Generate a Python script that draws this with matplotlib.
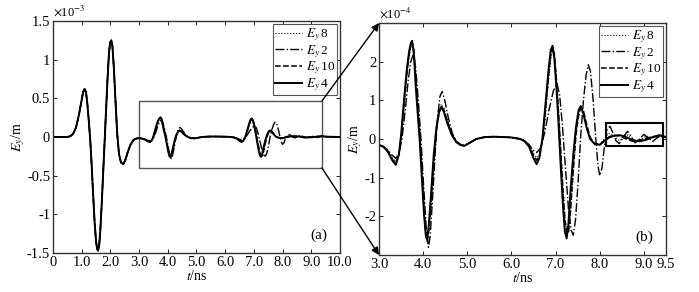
import numpy as np
import matplotlib
matplotlib.use('Agg')
import matplotlib.pyplot as plt
from matplotlib.patches import Rectangle, ConnectionPatch

plt.rcParams['font.family'] = ['Liberation Serif', 'DejaVu Serif']
plt.rcParams['mathtext.fontset'] = 'stix'
plt.rcParams['font.size'] = 10

# early part of the pulse, identical for all four curves (units of 1e-4 V/m)
t_early = [0.0, 0.5, 0.6, 0.7, 0.8, 0.9, 1.0, 1.05, 1.1, 1.15, 1.2, 1.25, 1.3, 1.35,
           1.4, 1.45, 1.5, 1.54, 1.57, 1.61, 1.65, 1.7, 1.75, 1.8, 1.85, 1.9, 1.95,
           1.99, 2.03, 2.07, 2.12, 2.18, 2.24, 2.3, 2.37, 2.45, 2.52, 2.6, 2.7, 2.8, 2.9]
v_early = [0, 0, 0.1, 0.4, 1.2, 2.8, 4.8, 5.8, 6.2, 5.8, 4.2, 2.0, -0.5, -3.8,
           -7.5, -11.0, -13.5, -14.5, -14.7, -14.0, -12.0, -8.5, -4.5, -0.5, 3.5, 7.5, 10.8,
           12.2, 12.5, 11.8, 9.0, 4.5, 0.3, -2.2, -3.3, -3.5, -3.0, -2.0, -1.0, -0.4, -0.2]

# late part, Ey 4 / Ey 8 / Ey 10 share this time grid
t_late = [3.0, 3.1, 3.2, 3.3, 3.38, 3.45, 3.5, 3.57, 3.63, 3.68, 3.72, 3.75, 3.79, 3.83,
          3.88, 3.92, 3.97, 4.02, 4.06, 4.09, 4.13, 4.18, 4.24, 4.3, 4.36, 4.41, 4.47,
          4.55, 4.65, 4.75, 4.85, 4.93, 5.05, 5.2, 5.4, 5.6, 5.8, 6.0, 6.2, 6.3, 6.4,
          6.5, 6.57, 6.63, 6.7, 6.77, 6.84, 6.89, 6.93, 6.97, 7.02, 7.07, 7.12, 7.17,
          7.21, 7.25, 7.29, 7.34, 7.4, 7.46, 7.52, 7.57, 7.63, 7.7, 7.78, 7.88, 8.0,
          8.1, 8.2, 8.3, 8.45, 8.6, 8.75, 8.9, 9.05, 9.2, 9.35, 9.5, 9.7, 10.0]
ey4_late = [-0.15, -0.2, -0.33, -0.55, -0.67, -0.4, 0.1, 1.05, 1.8, 2.25, 2.48, 2.54, 2.2, 1.4,
            0.6, 0.0, -1.0, -1.95, -2.5, -2.6, -2.2, -1.4, -0.4, 0.3, 0.7, 0.83, 0.7,
            0.4, 0.1, -0.08, -0.16, -0.18, -0.1, 0.0, 0.05, 0.06, 0.05, 0.04, 0.0, -0.06, -0.2,
            -0.5, -0.65, -0.5, 0.0, 0.9, 1.8, 2.3, 2.41, 2.1, 1.3, 0.3, -0.8, -1.8,
            -2.4, -2.57, -2.2, -1.3, -0.4, 0.3, 0.75, 0.85, 0.65, 0.3, 0.0, -0.12, -0.15,
            -0.06, 0.03, 0.08, 0.1, 0.05, -0.04, -0.06, -0.02, 0.05, 0.1, 0.05, 0.02, 0.0]
ey10_late = [-0.15, -0.2, -0.32, -0.52, -0.64, -0.42, 0.05, 0.95, 1.7, 2.2, 2.45, 2.52, 2.3, 1.6,
             0.8, 0.2, -0.8, -1.8, -2.45, -2.65, -2.35, -1.6, -0.6, 0.2, 0.68, 0.85, 0.75,
             0.45, 0.12, -0.07, -0.15, -0.17, -0.1, 0.0, 0.05, 0.06, 0.05, 0.04, 0.0, -0.05, -0.17,
             -0.42, -0.55, -0.45, -0.05, 0.75, 1.65, 2.2, 2.38, 2.2, 1.5, 0.6, -0.4, -1.4,
             -2.1, -2.4, -2.45, -1.8, -0.8, 0.1, 0.6, 0.8, 0.72, 0.4, 0.05, -0.12, -0.14,
             -0.04, 0.05, 0.1, 0.08, 0.0, -0.06, -0.03, 0.02, 0.06, 0.08, 0.04, 0.01, 0.0]
ey8_late = [-0.15, -0.2, -0.3, -0.48, -0.58, -0.4, 0.0, 0.85, 1.6, 2.1, 2.35, 2.45, 2.25, 1.65,
            0.85, 0.25, -0.7, -1.75, -2.4, -2.62, -2.4, -1.7, -0.7, 0.15, 0.7, 0.9, 0.8,
            0.5, 0.15, -0.06, -0.15, -0.17, -0.1, 0.0, 0.05, 0.06, 0.05, 0.04, 0.0, -0.05, -0.15,
            -0.38, -0.48, -0.4, -0.05, 0.6, 1.5, 2.05, 2.3, 2.2, 1.6, 0.7, -0.3, -1.3,
            -2.0, -2.35, -2.4, -1.9, -0.9, 0.1, 0.65, 0.85, 0.75, 0.35, 0.0, -0.15, -0.15,
            0.0, 0.15, 0.1, -0.05, 0.12, 0.0, -0.05, 0.08, 0.03, 0.08, 0.05, 0.02, 0.0]

# Ey 2 is delayed, so it gets its own grid
t_ey2_late = [3.0, 3.1, 3.2, 3.3, 3.38, 3.45, 3.52, 3.6, 3.66, 3.72, 3.78, 3.83, 3.89, 3.95,
              4.01, 4.07, 4.12, 4.16, 4.21, 4.27, 4.33, 4.38, 4.43, 4.49, 4.57, 4.66, 4.76,
              4.86, 4.95, 5.05, 5.2, 5.4, 5.6, 5.8, 6.0, 6.2, 6.3, 6.4, 6.5, 6.57, 6.65,
              6.75, 6.85, 6.95, 7.03, 7.09, 7.15, 7.22, 7.29, 7.35, 7.4, 7.45, 7.51, 7.57,
              7.63, 7.69, 7.74, 7.79, 7.85, 7.91, 7.96, 8.0, 8.05, 8.11, 8.17, 8.23, 8.3,
              8.37, 8.44, 8.53, 8.63, 8.72, 8.8, 8.9, 9.0, 9.1, 9.2, 9.3, 9.4, 9.5, 9.7, 10.0]
ey2_late = [-0.15, -0.2, -0.28, -0.42, -0.5, -0.38, 0.0, 0.8, 1.5, 2.0, 2.2, 1.85, 1.0, 0.0,
            -1.2, -2.3, -2.8, -2.5, -1.6, -0.4, 0.6, 1.1, 1.23, 1.0, 0.55, 0.15, -0.07,
            -0.15, -0.17, -0.1, 0.0, 0.05, 0.06, 0.05, 0.04, 0.0, -0.05, -0.15, -0.3, -0.35, -0.25,
            0.15, 0.75, 1.25, 1.44, 1.15, 0.4, -0.7, -1.8, -2.35, -2.49, -2.1, -1.1, 0.1,
            1.0, 1.65, 1.92, 1.75, 1.0, 0.0, -0.7, -0.95, -0.75, -0.15, 0.25, 0.33, 0.15,
            -0.05, -0.12, 0.05, 0.2, 0.05, -0.1, 0.0, 0.12, 0.02, -0.06, 0.03, 0.1, 0.05, 0.02, 0.0]

labels = ['$E_y\\,$8', '$E_y\\,$2', '$E_y\\,$10', '$E_y\\,$4']
styles = [(':', 0.8), ('-.', 1.0), ('--', 1.1), ('-', 1.4)]

t_a = np.array(t_early + t_late)
t_b = np.array(t_early + t_ey2_late)
series = [
    (t_a, np.array(v_early + ey8_late)),
    (t_b, np.array(v_early + ey2_late)),
    (t_a, np.array(v_early + ey10_late)),
    (t_a, np.array(v_early + ey4_late)),
]

fig = plt.figure(figsize=(6.99, 2.92), dpi=100)
ax1 = fig.add_axes([0.0758, 0.1336, 0.4106, 0.7945])
ax2 = fig.add_axes([0.5422, 0.1267, 0.4106, 0.7945])

for (t, v), lab, (ls, lw) in zip(series, labels, styles):
    ax1.plot(t, v / 10, color='black', linestyle=ls, linewidth=lw, label=lab)
    ax2.plot(t, v, color='black', linestyle=ls, linewidth=lw, label=lab)

# left panel
ax1.set_xlim(0, 10)
ax1.set_ylim(-1.5, 1.5)
ax1.set_xticks(np.arange(0, 11, 1))
ax1.set_xticklabels(['0'] + ['%.1f' % x for x in range(1, 11)])
ax1.set_yticks([-1.5, -1, -0.5, 0, 0.5, 1, 1.5])
ax1.set_yticklabels(['-1.5', '-1', '-0.5', '0', '0.5', '1', '1.5'])
ax1.set_xlabel('$t$/ns', labelpad=0)
ax1.set_ylabel('$E_y$/m', labelpad=0)
ax1.text(0.0, 1.01, '$\\times$10$^{-3}$', transform=ax1.transAxes, fontsize=9, va='bottom')
ax1.text(0.955, 0.06, '(a)', transform=ax1.transAxes, ha='right', fontsize=11)

# right panel
ax2.set_xlim(3.0, 9.5)
ax2.set_ylim(-3, 3)
ax2.set_xticks([3, 4, 5, 6, 7, 8, 9, 9.5])
ax2.set_xticklabels(['3.0', '4.0', '5.0', '6.0', '7.0', '8.0', '9.0', '9.5'])
ax2.set_yticks([-2, -1, 0, 1, 2])
ax2.set_yticklabels(['-2', '-1', '0', '1', '2'])
ax2.set_xlabel('$t$/ns', labelpad=0)
ax2.set_ylabel('$E_y$/m', labelpad=0)
ax2.text(0.0, 1.01, '$\\times$10$^{-4}$', transform=ax2.transAxes, fontsize=9, va='bottom')
ax2.text(0.955, 0.06, '(b)', transform=ax2.transAxes, ha='right', fontsize=11)

for ax in (ax1, ax2):
    ax.tick_params(direction='in', top=True, right=True, length=3, width=0.6, pad=2,
                   labelsize=10.5)
    for s in ax.spines.values():
        s.set_linewidth(1.0)
        s.set_color('#333333')
    leg = ax.legend(loc='upper right', fontsize=9.5, handlelength=2.0, handletextpad=0.3,
                    labelspacing=0.0, borderpad=0.15, borderaxespad=0.25, fancybox=False,
                    framealpha=1)
    leg.get_frame().set_edgecolor('#555555')
    leg.get_frame().set_linewidth(0.8)

# zoom box in (a) and the small box in (b)
box_x0, box_x1, box_y0, box_y1 = 3.0, 9.37, -0.40, 0.465
ax1.add_patch(Rectangle((box_x0, box_y0), box_x1 - box_x0, box_y1 - box_y0,
                        fill=False, edgecolor='#555555', linewidth=1.0))
ax2.add_patch(Rectangle((8.15, -0.18), 1.28, 0.6, fill=False, edgecolor='black', linewidth=1.5))

for ya, yb in [(box_y1, 3), (box_y0, -3)]:
    con = ConnectionPatch(xyA=(box_x1, ya), coordsA=ax1.transData,
                          xyB=(3.0, yb), coordsB=ax2.transData,
                          arrowstyle='-|>', mutation_scale=11, color='black', linewidth=1.0)
    fig.add_artist(con)

fig.savefig('out.png', dpi=100)
